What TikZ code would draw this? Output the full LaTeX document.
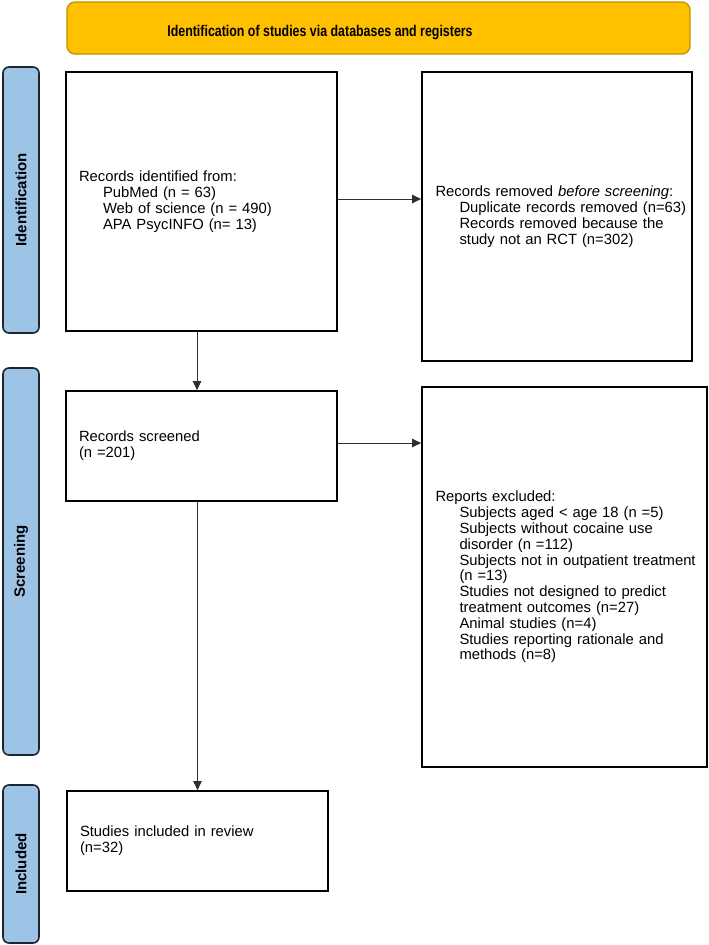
\documentclass[tikz,border=0pt]{standalone}
\usepackage{fontspec}
\setmainfont{Liberation Sans}
\usetikzlibrary{arrows.meta}
\definecolor{bannerfill}{HTML}{FFC000}
\definecolor{bannerdraw}{HTML}{BF9000}
\definecolor{barfill}{HTML}{9DC3E6}
\definecolor{bardraw}{HTML}{1C2633}
\definecolor{arrowcol}{HTML}{2E2E2E}
\newcommand{\subln}[1]{\mbox{\hspace*{24pt}#1}}
\newcommand{\mainln}[1]{\mbox{#1}}
\begin{document}
\begin{tikzpicture}[x=1pt,y=-1pt,
  every node/.style={font=\fontsize{14.8}{15.8}\selectfont},
  flowbox/.style={draw=black, line width=1.8pt, fill=white, rectangle,
    align=left, inner xsep=13pt, inner ysep=0pt},
  sidebar/.style={draw=bardraw, line width=1.6pt, fill=barfill, rounded corners=6pt,
    rotate=90, minimum height=36pt, inner sep=0pt,
    font=\fontsize{15}{15}\selectfont\bfseries},
  banner/.style={draw=bannerdraw, line width=1.3pt, fill=bannerfill, rounded corners=8pt,
    minimum width=623pt, minimum height=52pt, inner sep=0pt},
  arr/.style={draw=arrowcol, line width=0.9pt, -{Triangle[length=9pt,width=8.5pt]}}
]
\useasboundingbox (0,0) rectangle (709,945);

% banner
\node[banner] (ban) at (378.5,28) {};
\node[anchor=base, inner sep=0pt] (title) at (320,36)
  {\scalebox{0.8}[1]{\fontsize{15.5}{15.5}\selectfont\bfseries Identification of studies via databases and registers}};

% side bars
\node[sidebar, minimum width=266pt] (idb) at (21,200) {Identification};
\node[sidebar, minimum width=387pt] (scb) at (21,561.5) {Screening};
\node[sidebar, minimum width=158pt] (inb) at (21,864) {Included};

% boxes
\node[flowbox, text width=245pt, minimum height=259pt] (b1) at (201.5,201.5)
  {\mainln{Records identified from:}\\
   \subln{PubMed (n = 63)}\\
   \subln{Web of science (n = 490)}\\
   \subln{APA PsycINFO (n= 13)}};

\node[flowbox, text width=243pt, inner xsep=13.5pt, minimum height=289pt] (b2) at (557,216.5)
  {\mainln{Records removed \textit{before screening}:}\\
   \subln{Duplicate records removed (n=63)}\\
   \subln{Records removed because the}\\
   \subln{study not an RCT (n=302)}};

\node[flowbox, text width=245pt, minimum height=110pt] (b3) at (201.5,446)
  {\mainln{Records screened}\\
   \mainln{(n =201)}};

\node[flowbox, text width=258pt, inner xsep=13.5pt, minimum height=380pt] (b4) at (564.5,577)
  {\mainln{Reports excluded:}\\
   \subln{Subjects aged < age 18 (n =5)}\\
   \subln{Subjects without cocaine use}\\
   \subln{disorder (n =112)}\\
   \subln{Subjects not in outpatient treatment}\\
   \subln{(n =13)}\\
   \subln{Studies not designed to predict}\\
   \subln{treatment outcomes (n=27)}\\
   \subln{Animal studies (n=4)}\\
   \subln{Studies reporting rationale and}\\
   \subln{methods (n=8)}};

\node[flowbox, text width=235pt, minimum height=100pt] (b5) at (197.5,841)
  {\mainln{Studies included in review}\\
   \mainln{(n=32)}};

% connectors
\draw[arr] ([yshift=2.5pt]b1.east) -- ([yshift=2.5pt]b1.east -| b2.west);
\draw[arr] ([xshift=-4.5pt]b1.south) -- ([xshift=-4.5pt]b1.south |- b3.north);
\draw[arr] ([yshift=3pt]b3.east) -- ([yshift=3pt]b3.east -| b4.west);
\draw[arr] (b5.north |- b3.south) -- (b5.north);
\end{tikzpicture}
\end{document}
